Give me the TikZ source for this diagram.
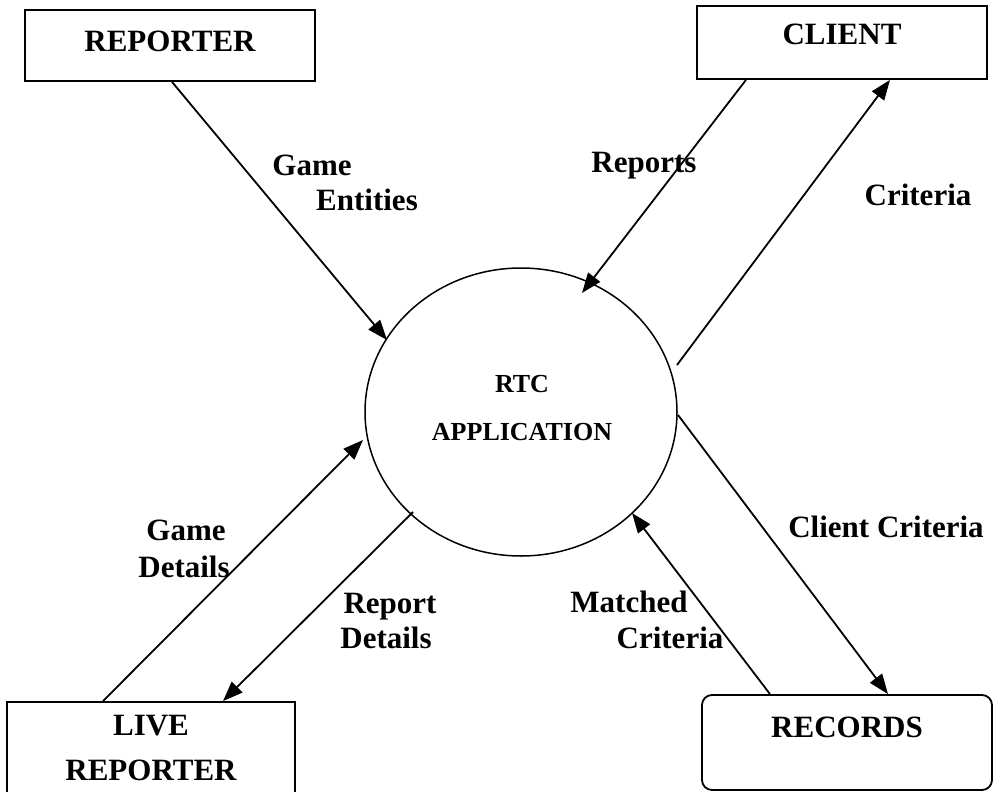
\documentclass[tikz,border=0pt]{standalone}
\usepackage{fontspec}
\setmainfont{Liberation Serif}
\usetikzlibrary{arrows.meta,calc,shapes.geometric}
\begin{document}
\begin{tikzpicture}[x=1pt,y=-1pt,
  box/.style={draw, line width=1.8pt, inner sep=0pt},
  bub/.style={draw, ellipse, line width=1.5pt, minimum width=312pt, minimum height=288pt, inner sep=0pt},
  txt/.style={font=\fontsize{31}{37}\selectfont\bfseries, anchor=base, inner sep=0pt},
  txts/.style={font=\fontsize{26}{31}\selectfont\bfseries, anchor=base, inner sep=0pt},
  flow/.style={line width=1.8pt, -{Triangle[length=20pt,width=15pt]}}
]
\useasboundingbox (0,0) rectangle (996,792);

% entities
\node[box, minimum width=290pt, minimum height=71pt] (rep) at (170,45.5) {};
\node[box, minimum width=290pt, minimum height=73pt] (cli) at (842,42.5) {};
\node[box, minimum width=288pt, minimum height=98pt] (live) at (151,751) {};
\node[box, rounded corners=10pt, minimum width=290pt, minimum height=95pt] (rec) at (847,742.5) {};
\node[bub] (app) at (521,412) {};

% box texts
\node[txt] (repT) at (170,52) {REPORTER};
\node[txt] (cliT) at (842,45) {CLIENT};
\node[txt] (liveT1) at (151,735) {LIVE};
\node[txt] (liveT2) at (151,780) {REPORTER};
\node[txt] (recT) at (847,737) {RECORDS};
\node[txts] (appT1) at (522,392) {RTC};
\node[txts] (appT2) at (522,440) {APPLICATION};

% flows
\draw[flow] ([xshift=2pt]rep.south) -- ($(app.center)+(-134,-72)$);
\draw[flow] ([xshift=-96pt]cli.south) -- ($(app.center)+(61,-119)$);
\draw[flow] ($(app.center)+(156,-47)$) -- ([xshift=48pt]cli.south);
\draw[flow] ($(app.center)+(157,3)$) -- ([xshift=41pt]rec.north);
\draw[flow] ([xshift=-77pt]rec.north) -- ($(app.center)+(111,101)$);
\draw[flow] ([xshift=-48pt]live.north) -- ($(app.center)+(-158,28)$);
\draw[flow] ($(app.center)+(-108,100)$) -- ([xshift=72pt]live.north);

% flow labels
\node[txt] (l1a) at (312,175) {Game};
\node[txt] (l1b) at (367,210) {Entities};
\node[txt] (l2) at (644,172) {Reports};
\node[txt] (l3) at (918,205) {Criteria};
\node[txt] (l4) at (886,537) {Client Criteria};
\node[txt] (l5a) at (629,612) {Matched};
\node[txt] (l5b) at (670,648) {Criteria};
\node[txt] (l6a) at (186,540) {Game};
\node[txt] (l6b) at (184,577) {Details};
\node[txt] (l7a) at (390,613) {Report};
\node[txt] (l7b) at (386,648) {Details};
\end{tikzpicture}
\end{document}
